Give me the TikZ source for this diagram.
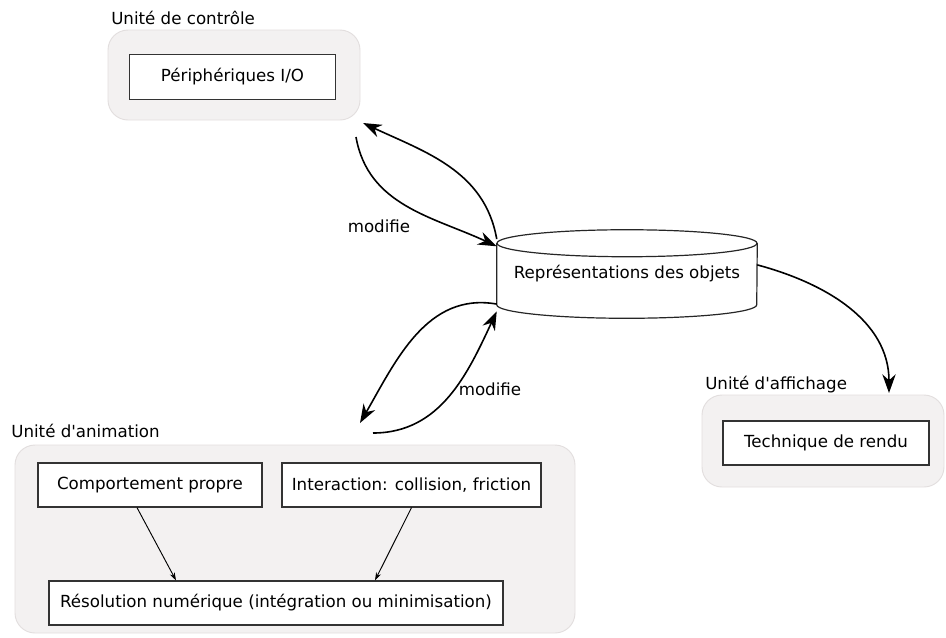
\documentclass[tikz,border=0pt]{standalone}
\usepackage{fontspec}
\setmainfont{DejaVu Sans}
\usetikzlibrary{positioning,fit,arrows.meta}

\definecolor{unitfill}{RGB}{243,241,241}
\definecolor{unitdraw}{RGB}{226,222,222}

\tikzset{
  unit/.style={draw=unitdraw, fill=unitfill, rounded corners=15pt, inner sep=0pt, line width=0.7pt},
  block/.style={draw=black!80, fill=white, inner sep=0pt, line width=0.9pt},
  store/.style={inner sep=0pt, minimum width=260*0.75pt, minimum height=88*0.75pt},
  storeline/.style={draw=black!85, line width=0.9pt},
  unitlabel/.style={anchor=base west, inner sep=0pt, label distance=0pt, xshift=2.6pt, yshift=3.75pt},
  bigarrow/.style={line width=1.2pt, -{Stealth[length=14pt,width=10pt,inset=4.5pt]}},
  thinarrow/.style={line width=0.7pt, -{Stealth[length=6pt,width=4pt]}}
}

\begin{document}
\begin{tikzpicture}[x=0.75pt,y=-0.75pt,font=\fontsize{12.5}{15}\selectfont]
  \useasboundingbox (0,0) rectangle (946,637);

  % les trois unites
  \node[unit, fit={(108,30) (360,120)}, label={[unitlabel]north west:Unité de contrôle}] (ctl) {};
  \node[unit, fit={(15,445) (575,633)}, label={[unitlabel, xshift=-5.2pt, yshift=1.5pt]north west:Unité d\textquotesingle animation}] (ani) {};
  \node[unit, fit={(702,395) (944,487)}, label={[unitlabel]north west:Unité d\textquotesingle affichage}] (aff) {};

  % blocs
  \node[block, minimum width=206*0.75pt, minimum height=45*0.75pt] (io) at (232.5,77) {Périphériques I/O};
  \node[block, minimum width=224*0.75pt, minimum height=44*0.75pt] (comp) at (150,485) {Comportement propre};
  \node[block, minimum width=259*0.75pt, minimum height=44*0.75pt] (inter) at (411.5,485) {Interaction: collision, friction};
  \node[block, minimum width=454*0.75pt, minimum height=44*0.75pt] (reso) at (276,603) {Résolution numérique (intégration ou minimisation)};
  \node[block, minimum width=206*0.75pt, minimum height=44*0.75pt] (rendu) at (826,443) {Technique de rendu};

  % le cylindre
  \node[store] (repr) at (627,274) {};
  \draw[storeline, fill=white] ([yshift=-10.125pt]repr.north west) -- ([yshift=10.125pt]repr.south west)
    arc[start angle=180, end angle=360, x radius=97.5pt, y radius=10.125pt]
    -- ([yshift=-10.125pt]repr.north east);
  \draw[storeline, fill=white] ([yshift=-10.125pt]repr.north) ellipse[x radius=97.5pt, y radius=10.125pt];
  \node at (repr.center) {Représentations des objets};

  % extremites libres
  \coordinate (ctlA) at (356,137);
  \coordinate (ctlB) at (363,123);
  \coordinate (aniA) at (360,423);
  \coordinate (aniB) at (373,433);
  \coordinate (affA) at (889,393);

  \draw[bigarrow] (ctlA) to[out=-80, in=155] (repr.168);
  \draw[bigarrow] (repr.165) to[out=100, in=-25] (ctlB);
  \draw[bigarrow] (repr.193) to[out=170, in=60] (aniA);
  \draw[bigarrow] (aniB) to[out=0, in=-115] (repr.196);
  \draw[bigarrow] (repr.4) to[out=-15, in=90] (affA);

  \node (mod1) at (379,226) {modifie};
  \node (mod2) at (490,389) {modifie};

  \draw[thinarrow] ([shift={(-13,0)}]comp.south) -- ([shift={(-100,0)}]reso.north);
  \draw[thinarrow] (inter.south) -- ([shift={(99,0)}]reso.north);
\end{tikzpicture}
\end{document}
